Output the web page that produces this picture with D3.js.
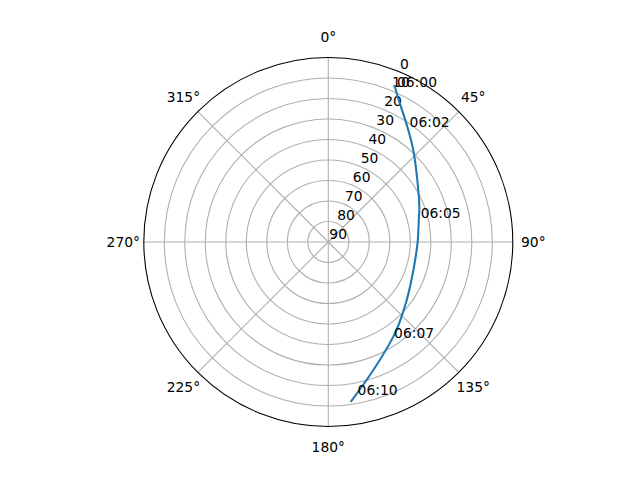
<!DOCTYPE html>
<html>
<head>
<meta charset="utf-8">
<script src="https://cdn.jsdelivr.net/npm/d3@7"></script>
<style>
  body { margin: 0; background: #fff; }
  text { font-family: "DejaVu Sans", sans-serif; font-size: 13.89px; fill: #000; }
</style>
</head>
<body>
<script>
// satellite pass track, azimuth (deg, clockwise from north) and elevation (deg)
const azimuth   = [22.8, 26.4, 34.5, 42.7, 56.6, 70.6, 74.4, 89.8, 108.2, 126.5, 138.9, 145.5, 160.6, 172.0];
const elevation = [ 6.9, 12.7, 21.9, 28.9, 37.8, 42.9, 44.1, 46.4,  46.3,  42.4,  37.4,  34.0,  23.8,  11.3];

// time labels along the track
const labelTimes = ['06:00', '06:02', '06:05', '06:07', '06:10'];
const labelAz    = [23.3, 34.6, 75.1, 146.4, 169.9];
const labelEl    = [7.7, 21.9, 44.4, 33.8, 14.2];

// axis ticks
const thetaTicks = [0, 45, 90, 135, 180, 225, 270, 315];
const rTicks = [0, 10, 20, 30, 40, 50, 60, 70, 80, 90];

const width = 640, height = 480;
const cx = 328.3, cy = 242, R = 184.5;
const rlabelAngle = 22.5;

let svg = d3.select('body')
  .append('svg')
  .attr('width', width)
  .attr('height', height)
  .append('g')
  .attr('transform', `translate(${cx},${cy})`);

// elevation 0 at the rim, 90 at the centre
let r = d3.scaleLinear().domain([0, 90]).range([R, 0]);
let rad = d => d * Math.PI / 180;

function px(az, el) { return r(el) * Math.sin(rad(az)); }
function py(az, el) { return -r(el) * Math.cos(rad(az)); }

// circular grid
svg.selectAll('.ring')
  .data(rTicks.filter(d => d > 0 && d < 90))
  .enter()
  .append('circle')
  .attr('r', d => r(d))
  .attr('fill', 'none')
  .attr('stroke', '#b0b0b0')
  .attr('stroke-width', 1.1);

// spoke grid
svg.selectAll('.spoke')
  .data(thetaTicks)
  .enter()
  .append('line')
  .attr('x1', 0)
  .attr('y1', 0)
  .attr('x2', d => px(d, 0))
  .attr('y2', d => py(d, 0))
  .attr('stroke', '#b0b0b0')
  .attr('stroke-width', 1.1);

// outer spine
svg.append('circle')
  .attr('r', r(0))
  .attr('fill', 'none')
  .attr('stroke', '#000')
  .attr('stroke-width', 1.1);

// angle labels
svg.selectAll('.tlabel')
  .data(thetaTicks)
  .enter()
  .append('text')
  .attr('x', d => (R + 20.5) * Math.sin(rad(d)))
  .attr('y', d => -(R + 20.5) * Math.cos(rad(d)) + 4.9)
  .style('text-anchor', 'middle')
  .text(d => d + '°');

// radial labels
svg.selectAll('.rlabel')
  .data(rTicks)
  .enter()
  .append('text')
  .attr('x', d => px(rlabelAngle, d) + 1)
  .attr('y', d => py(rlabelAngle, d) - 3)
  .style('text-anchor', 'start')
  .text(d => d);

// track
let track = azimuth.map((a, i) => [rad(a), r(elevation[i])]);
let line = d3.lineRadial()
  .angle(d => d[0])
  .radius(d => d[1])
  .curve(d3.curveCatmullRom);

svg.append('path')
  .datum(track)
  .attr('d', line)
  .attr('fill', 'none')
  .attr('stroke', '#1f77b4')
  .attr('stroke-width', 2.08);

// time annotations
svg.selectAll('.tann')
  .data(labelTimes)
  .enter()
  .append('text')
  .attr('x', (d, i) => px(labelAz[i], labelEl[i]) + 2)
  .attr('y', (d, i) => py(labelAz[i], labelEl[i]))
  .style('text-anchor', 'start')
  .text(d => d);
</script>
</body>
</html>
